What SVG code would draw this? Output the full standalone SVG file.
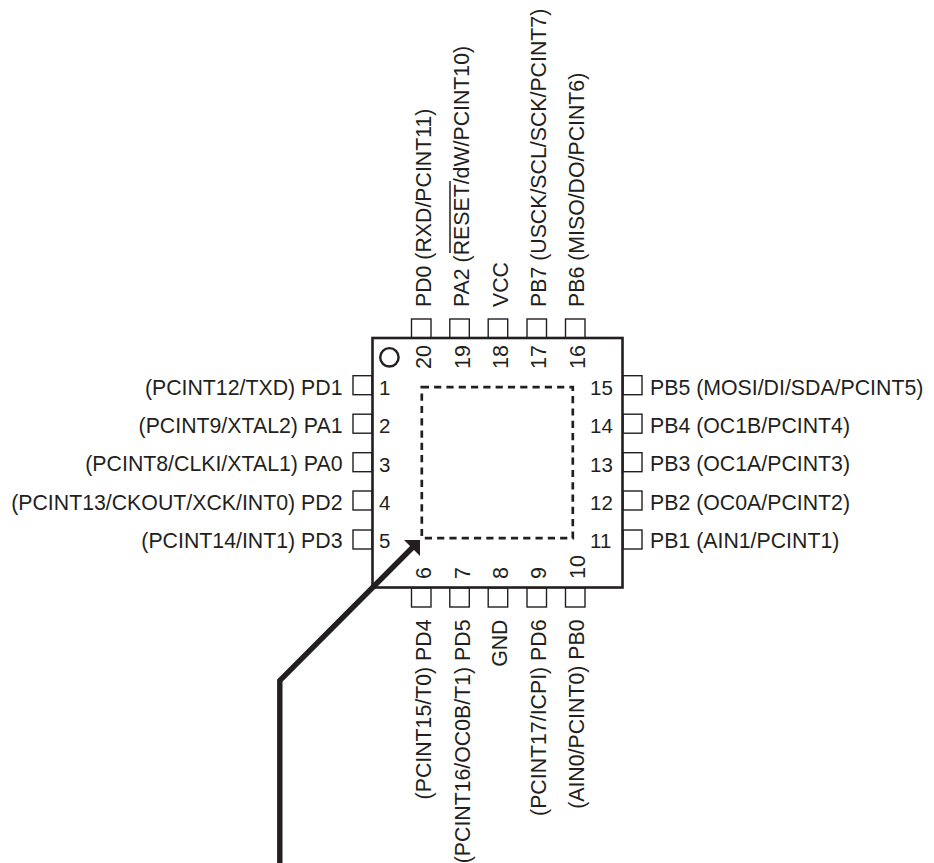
<svg xmlns="http://www.w3.org/2000/svg" width="934" height="863" viewBox="0 0 934 863">
<style>
text{font-family:"Liberation Sans",Arial,sans-serif;font-size:21.3px;fill:#231f20}
.pad{fill:#fff;stroke:#231f20;stroke-width:1.4}
.e{text-anchor:end}
.n{font-size:20.5px}
.r{font-size:21.5px}
</style>
<rect width="934" height="863" fill="#fff"/>
<g id="pads">
<rect class="pad" x="411.500" y="319" width="19.500" height="19"/><rect class="pad" x="449.800" y="319" width="19.500" height="19"/><rect class="pad" x="488.200" y="319" width="19.500" height="19"/><rect class="pad" x="527" y="319" width="19.500" height="19"/><rect class="pad" x="565.500" y="319" width="19.500" height="19"/>
<rect class="pad" x="411.500" y="588" width="19.500" height="19"/><rect class="pad" x="449.800" y="588" width="19.500" height="19"/><rect class="pad" x="488.200" y="588" width="19.500" height="19"/><rect class="pad" x="527" y="588" width="19.500" height="19"/><rect class="pad" x="565.500" y="588" width="19.500" height="19"/>
<rect class="pad" x="353" y="375.700" width="19" height="19"/><rect class="pad" x="353" y="414.200" width="19" height="19"/><rect class="pad" x="353" y="452.700" width="19" height="19"/><rect class="pad" x="353" y="491" width="19" height="19"/><rect class="pad" x="353" y="530" width="19" height="19"/>
<rect class="pad" x="623" y="375.700" width="19" height="19"/><rect class="pad" x="623" y="414.200" width="19" height="19"/><rect class="pad" x="623" y="452.700" width="19" height="19"/><rect class="pad" x="623" y="491" width="19" height="19"/><rect class="pad" x="623" y="530" width="19" height="19"/>
</g>
<g id="chip">
<rect x="372.500" y="338" width="250" height="249.500" fill="#fff" stroke="#231f20" stroke-width="2.600"/>
<circle cx="389.400" cy="357.300" r="9.200" fill="none" stroke="#231f20" stroke-width="2.400"/>
<rect x="421.800" y="387.200" width="151" height="151" fill="none" stroke="#231f20" stroke-width="2.700" stroke-dasharray="7.200 5.100"/>
</g>
<g id="numbers-left">
<text class="n" x="379" y="395">1</text><text class="n" x="379" y="433">2</text><text class="n" x="379" y="472">3</text><text class="n" x="379" y="510">4</text><text class="n" x="379" y="548">5</text>
</g>
<g id="numbers-right">
<text class="n" x="590" y="395">15</text><text class="n" x="590" y="433">14</text><text class="n" x="590" y="472">13</text><text class="n" x="590" y="510">12</text><text class="n" x="590" y="548">11</text>
</g>
<g id="numbers-top">
<text class="r" transform="translate(431,369) rotate(-90)">20</text><text class="r" transform="translate(469.500,369) rotate(-90)">19</text><text class="r" transform="translate(507.500,369) rotate(-90)">18</text><text class="r" transform="translate(546,369) rotate(-90)">17</text><text class="r" transform="translate(584.500,369) rotate(-90)">16</text>
</g>
<g id="numbers-bottom">
<text class="r" transform="translate(431,579) rotate(-90)">6</text><text class="r" transform="translate(469.500,579) rotate(-90)">7</text><text class="r" transform="translate(507.500,579) rotate(-90)">8</text><text class="r" transform="translate(546,579) rotate(-90)">9</text><text class="r" transform="translate(584.500,579) rotate(-90)">10</text>
</g>
<g id="labels-left">
<text class="e" x="342.500" y="394.500">(PCINT12/TXD) PD1</text>
<text class="e" x="342.500" y="432.500">(PCINT9/XTAL2) PA1</text>
<text class="e" x="342.500" y="471.300">(PCINT8/CLKI/XTAL1) PA0</text>
<text class="e" x="342.500" y="509.500">(PCINT13/CKOUT/XCK/INT0) PD2</text>
<text class="e" x="342.500" y="547.500">(PCINT14/INT1) PD3</text>
</g>
<g id="labels-right">
<text x="650" y="394.500">PB5 (MOSI/DI/SDA/PCINT5)</text>
<text x="650" y="432.500">PB4 (OC1B/PCINT4)</text>
<text x="650" y="471.300">PB3 (OC1A/PCINT3)</text>
<text x="650" y="509.500">PB2 (OC0A/PCINT2)</text>
<text x="650" y="547.500">PB1 (AIN1/PCINT1)</text>
</g>
<g id="labels-top">
<text transform="translate(430.500,307) rotate(-90)">PD0 (RXD/PCINT11)</text>
<text transform="translate(469,307) rotate(-90)">PA2 (RESET/dW/PCINT10)</text>
<path id="overbar" d="M450 253V181" fill="none" stroke="#231f20" stroke-width="1.500"/>
<text transform="translate(507.500,307) rotate(-90)">VCC</text>
<text transform="translate(545.500,307) rotate(-90)">PB7 (USCK/SCL/SCK/PCINT7)</text>
<text transform="translate(584,307) rotate(-90)">PB6 (MISO/DO/PCINT6)</text>
</g>
<g id="labels-bottom">
<text class="e" transform="translate(430.500,619.500) rotate(-90)">(PCINT15/T0) PD4</text>
<text class="e" transform="translate(470,619.500) rotate(-90)">(PCINT16/OC0B/T1) PD5</text>
<text class="e" transform="translate(507,619.500) rotate(-90)">GND</text>
<text class="e" transform="translate(546,619.500) rotate(-90)">(PCINT17/ICPI) PD6</text>
<text class="e" transform="translate(584,619.500) rotate(-90)">(AIN0/PCINT0) PB0</text>
</g>
<g id="connectors">
<path d="M279.800 863V680.500L414 546" fill="none" stroke="#231f20" stroke-width="5.400"/>
<path d="M404 540H420V556L412 548Z" fill="#231f20"/>
</g>
</svg>
